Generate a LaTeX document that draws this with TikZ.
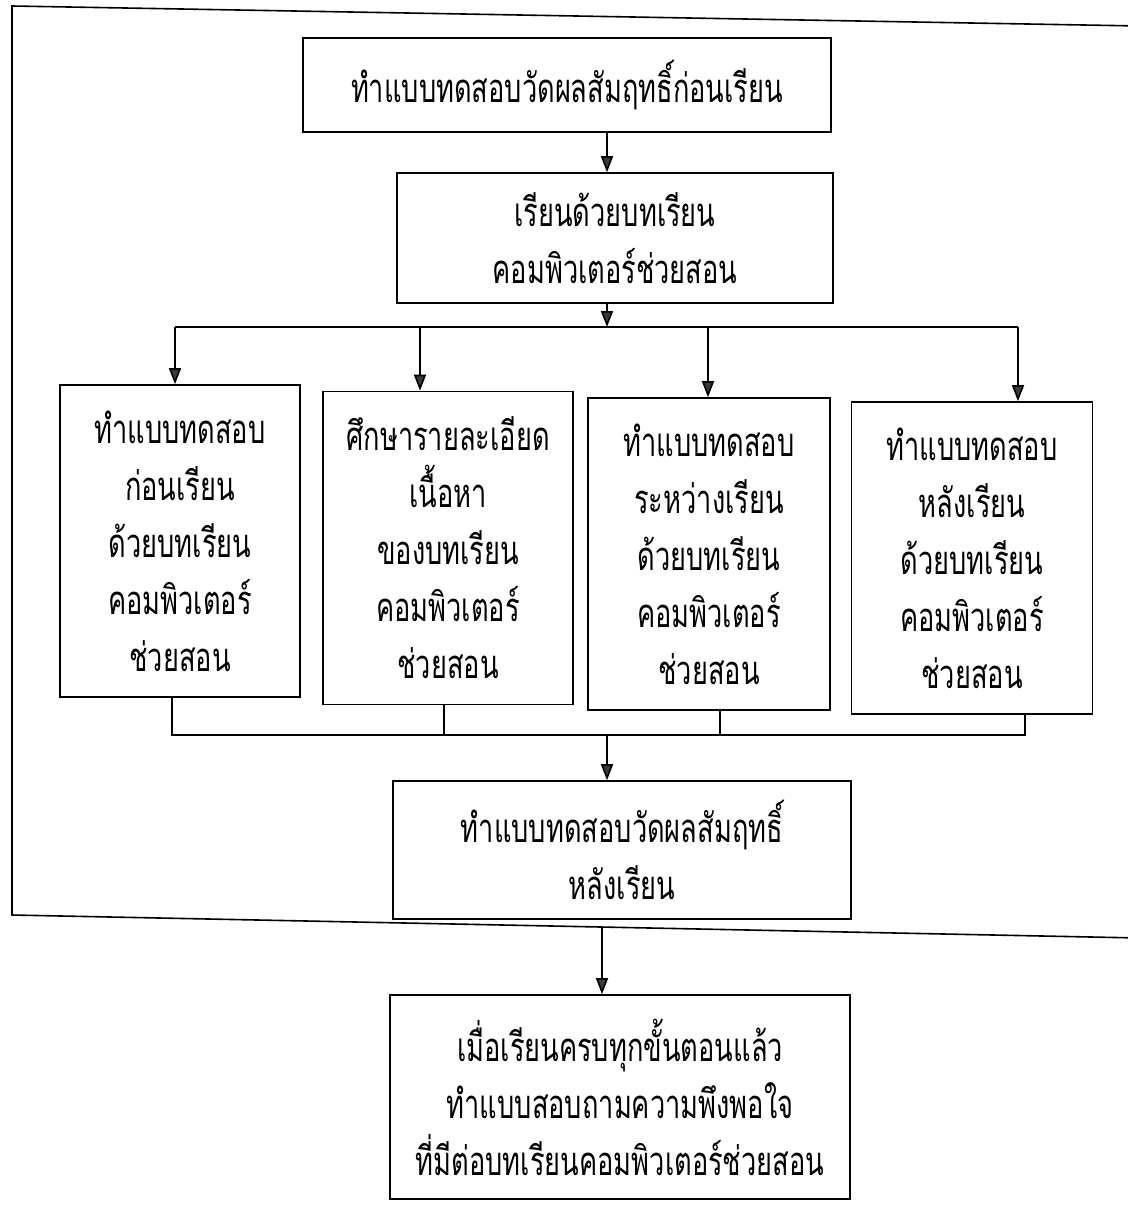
\documentclass[tikz,border=0pt]{standalone}
\usepackage{fontspec}
\newfontfamily\thai[Script=Thai,FakeStretch=0.68]{Loma}
\usetikzlibrary{arrows.meta}
\definecolor{tipgray}{HTML}{3A3A3A}
\begin{document}
\begin{tikzpicture}[x=1pt,y=-1pt,
  box/.style={draw=black,line width=1.6pt,align=center,inner sep=0pt,
    font=\thai\fontsize{40}{57}\selectfont},
  wire/.style={draw=black,line width=1.6pt},
  arr/.style={wire,-{Triangle[width=12pt,length=16pt,fill=tipgray]}}]
\useasboundingbox (0,0) rectangle (1127,1207);
\fill[white] (0,0) rectangle (1127,1207);
% outer frame
\draw[wire] (1140,26) -- (12,6) -- (12,915) -- (1140,938);
% boxes
\node[box,minimum width=528pt,minimum height=94pt] (top) at (567,85) {ทำแบบทดสอบวัดผลสัมฤทธิ์ก่อนเรียน};
\node[box,minimum width=436pt,minimum height=130pt] (learn) at (615,238) {เรียนด้วยบทเรียน\\คอมพิวเตอร์ช่วยสอน};
\node[box,minimum width=240pt,minimum height=312pt] (a) at (180,541) {ทำแบบทดสอบ\\ก่อนเรียน\\ด้วยบทเรียน\\คอมพิวเตอร์\\ช่วยสอน};
\node[box,minimum width=250pt,minimum height=313pt] (b) at (448,548) {ศึกษารายละเอียด\\เนื้อหา\\ของบทเรียน\\คอมพิวเตอร์\\ช่วยสอน};
\node[box,minimum width=242pt,minimum height=312pt] (c) at (709,554) {ทำแบบทดสอบ\\ระหว่างเรียน\\ด้วยบทเรียน\\คอมพิวเตอร์\\ช่วยสอน};
\node[box,minimum width=241pt,minimum height=312pt] (d) at (972,558) {ทำแบบทดสอบ\\หลังเรียน\\ด้วยบทเรียน\\คอมพิวเตอร์\\ช่วยสอน};
\node[box,minimum width=458pt,minimum height=138pt] (post) at (622,850) {ทำแบบทดสอบวัดผลสัมฤทธิ์\\หลังเรียน};
\node[box,minimum width=460pt,minimum height=204pt] (sat) at (620,1097) {เมื่อเรียนครบทุกขั้นตอนแล้ว\\ทำแบบสอบถามความพึงพอใจ\\ที่มีต่อบทเรียนคอมพิวเตอร์ช่วยสอน};
% coordinates
\coordinate (split) at (607,327);
\coordinate (sa) at (175,327);
\coordinate (sd) at (1018,327);
\coordinate (join) at (607,735);
\coordinate (ja) at (172,735);
\coordinate (jd) at (1025,735);
\coordinate (frm) at (602,928);
% connectors
\draw[arr] (top.south -| 607,0) -- (learn.north -| 607,0);
\draw[arr] (learn.south -| split) -- (split);
\draw[wire] (sa) -- (sd);
\draw[arr] (sa) -- (a.north -| sa);
\draw[arr] (420,327) -- (b.north -| 420,0);
\draw[arr] (708,327) -- (c.north -| 708,0);
\draw[arr] (sd) -- (d.north -| sd);
\draw[wire] (a.south -| ja) -- (ja) -- (jd) -- (d.south -| jd);
\draw[wire] (b.south -| 444,0) -- (444,735);
\draw[wire] (c.south -| 720,0) -- (720,735);
\draw[arr] (join) -- (post.north -| join);
\draw[arr] (frm) -- (sat.north -| frm);
\end{tikzpicture}
\end{document}
